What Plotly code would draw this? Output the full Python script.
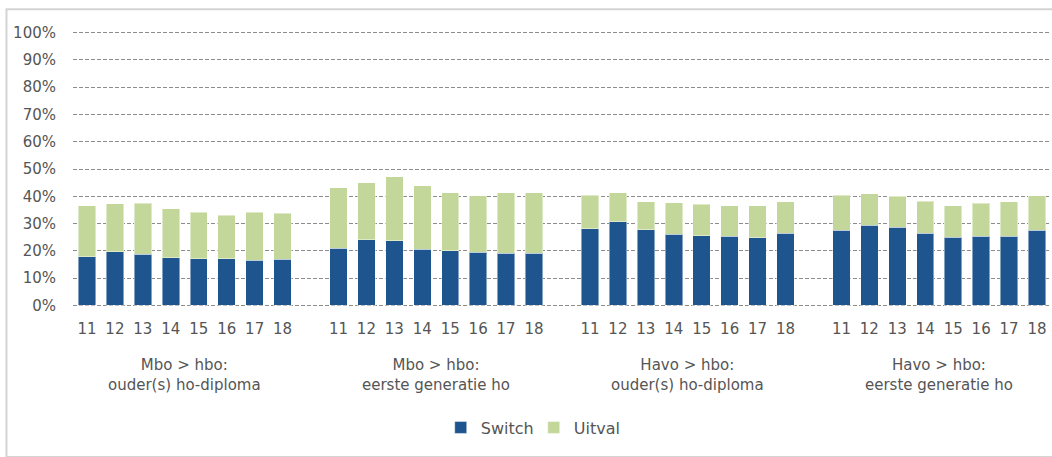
import plotly.graph_objects as go

# --- data ---
years = ["11", "12", "13", "14", "15", "16", "17", "18"]
groups = [
    "Mbo > hbo:<br>ouder(s) ho-diploma",
    "Mbo > hbo:<br>eerste generatie ho",
    "Havo > hbo:<br>ouder(s) ho-diploma",
    "Havo > hbo:<br>eerste generatie ho",
]
switch_mbo_ouder = [17.8, 19.6, 18.8, 17.4, 17.0, 17.0, 16.5, 16.8]
switch_mbo_eerste = [21.0, 24.0, 23.6, 20.6, 20.0, 19.4, 19.0, 19.1]
switch_havo_ouder = [28.1, 30.6, 27.7, 26.1, 25.5, 25.4, 24.8, 26.5]
switch_havo_eerste = [27.6, 29.4, 28.7, 26.5, 25.0, 25.4, 25.4, 27.5]

uitval_mbo_ouder = [18.7, 17.6, 18.6, 18.1, 17.2, 16.1, 17.6, 17.0]
uitval_mbo_eerste = [22.1, 21.0, 23.5, 23.3, 21.2, 20.7, 22.3, 22.2]
uitval_havo_ouder = [12.2, 10.6, 10.3, 11.5, 11.5, 11.1, 11.8, 11.5]
uitval_havo_eerste = [12.8, 11.5, 11.3, 11.6, 11.6, 12.0, 12.5, 12.6]

switch_all = [switch_mbo_ouder, switch_mbo_eerste, switch_havo_ouder, switch_havo_eerste]
uitval_all = [uitval_mbo_ouder, uitval_mbo_eerste, uitval_havo_ouder, uitval_havo_eerste]

y_ticks = [0, 10, 20, 30, 40, 50, 60, 70, 80, 90, 100]

# --- build positions (one empty slot between groups) ---
slot = len(years) + 1
xs, sw, uv, tickvals, ticktext = [], [], [], [], []
for g in range(len(groups)):
    for i, yr in enumerate(years):
        pos = g * slot + i
        xs.append(pos)
        sw.append(switch_all[g][i] / 100)
        uv.append(uitval_all[g][i] / 100)
        tickvals.append(pos)
        ticktext.append(yr)

BLUE = "#1F558F"
GREEN = "#C4D79B"
TXT = "#555555"
FONT = "DejaVu Sans"

fig = go.Figure()
fig.add_trace(go.Bar(x=xs, y=sw, name="Switch", marker=dict(color=BLUE, line=dict(color="rgba(255,255,255,0.45)", width=1))))
fig.add_trace(go.Bar(x=xs, y=uv, name="Uitval", marker=dict(color=GREEN, line=dict(color="rgba(255,255,255,0.45)", width=1))))

for g, lab in enumerate(groups):
    fig.add_annotation(
        x=g * slot + (len(years) - 1) / 2, xref="x",
        y=-0.2425, yref="paper",
        text=lab, showarrow=False, align="center",
        xanchor="center", yanchor="middle",
        font=dict(family=FONT, size=15, color=TXT),
    )

# chart border
fig.add_shape(type="rect", xref="paper", yref="paper",
              x0=-0.068, x1=1.02, y0=-0.5363, y1=1.0749,
              line=dict(color="#D4D4D4", width=2), fillcolor="rgba(0,0,0,0)", layer="below")

fig.update_layout(
    width=1052, height=457,
    margin=dict(l=73, r=1, t=30.28, b=149.28, autoexpand=False),
    barmode="stack", bargap=0.375,
    paper_bgcolor="white", plot_bgcolor="white",
    font=dict(family=FONT, size=15, color=TXT),
    showlegend=True,
    legend=dict(orientation="h", x=0.376, xanchor="left", y=-0.430, yanchor="middle",
                entrywidth=48, entrywidthmode="pixels",
                font=dict(family=FONT, size=16, color=TXT), traceorder="normal"),
    xaxis=dict(range=[-0.5, len(groups) * slot - 1.5], tickmode="array", tickvals=tickvals, ticktext=ticktext,
               showgrid=False, zeroline=False, showline=False, ticks="", ticklabelstandoff=10,
               tickfont=dict(family=FONT, size=15, color=TXT)),
    yaxis=dict(range=[-0.01, 1.01], tickmode="array", tickvals=[v / 100 for v in y_ticks],
               ticktext=[f"{v}%" for v in y_ticks],
               showgrid=True, gridcolor="#8C8C8C", gridwidth=1, griddash="4px,2px",
               zeroline=False, showline=False, ticks="", ticklabelstandoff=16,
               tickfont=dict(family=FONT, size=15, color=TXT)),
)

fig.write_html("out.html", config={"displayModeBar": False},
               post_script="document.body.style.margin='0';")
